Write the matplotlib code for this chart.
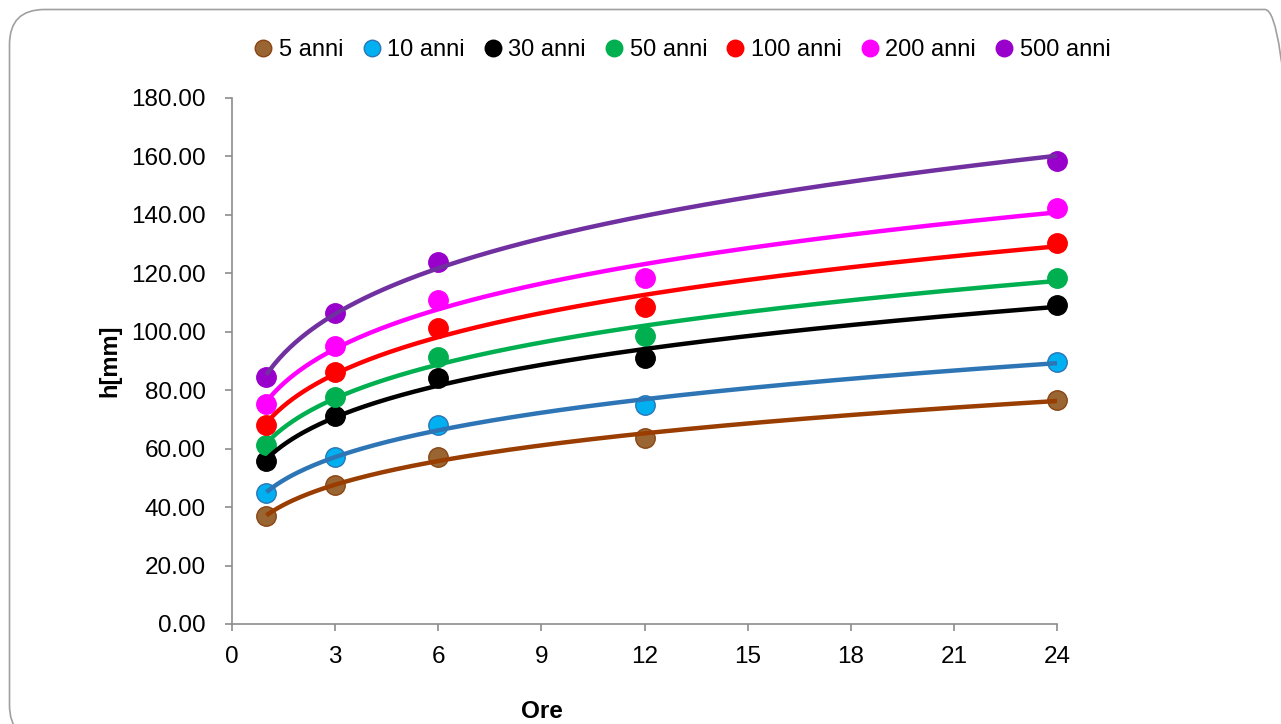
import numpy as np
import matplotlib
matplotlib.use("Agg")
import matplotlib.pyplot as plt
from matplotlib.patches import FancyBboxPatch
from matplotlib.transforms import IdentityTransform

plt.rcParams['font.family'] = ['Liberation Sans', 'DejaVu Sans']

# ---- data ----
ore = [1, 3, 6, 12, 24]
labels = ["5 anni", "10 anni", "30 anni", "50 anni", "100 anni", "200 anni", "500 anni"]
h_5 = [37.0, 47.6, 57.2, 63.7, 76.7]
h_10 = [44.8, 57.2, 68.1, 74.9, 89.7]
h_30 = [55.8, 71.2, 84.2, 91.0, 109.2]
h_50 = [61.3, 77.7, 91.4, 98.6, 118.4]
h_100 = [68.1, 86.2, 101.3, 108.5, 130.4]
h_200 = [75.3, 95.1, 110.9, 118.4, 142.4]
h_500 = [84.5, 106.4, 123.9, np.nan, 158.5]
series = [h_5, h_10, h_30, h_50, h_100, h_200, h_500]

face_colors = ["#996633", "#00B0F0", "#000000", "#00B050", "#FF0000", "#FF00FF", "#9900CC"]
edge_colors = ["#8B4513", "#2E75B6", "#000000", "#00B050", "#FF0000", "#FF00FF", "#9900CC"]
line_colors = ["#993D00", "#2E75B6", "#000000", "#00B050", "#FF0000", "#FF00FF", "#7030A0"]

yticks = [0, 20, 40, 60, 80, 100, 120, 140, 160, 180]
xticks = [0, 3, 6, 9, 12, 15, 18, 21, 24]

W, H = 1281, 724
fig = plt.figure(figsize=(W / 100, H / 100), dpi=100)

# rounded chart border (pixel coordinates, origin bottom-left)
border = FancyBboxPatch((9.5, -16), 1300 - 9.5, (H - 9.5) + 16,
                        boxstyle="round,pad=0,rounding_size=35",
                        transform=IdentityTransform(), facecolor="none",
                        edgecolor="#A0A0A0", linewidth=1.2, zorder=-5)
fig.patches.append(border)

ax = fig.add_axes([232 / W, 1 - 624 / H, 825 / W, 526 / H])
ax.set_facecolor("none")

xs = np.array(ore, dtype=float)
xfit = np.linspace(1, 24, 300)
for vals, lab, fc, ec, lc in zip(series, labels, face_colors, edge_colors, line_colors):
    v = np.array(vals, dtype=float)
    m = ~np.isnan(v)
    ax.plot(xs[m], v[m], linestyle="none", marker="o", markersize=14,
            markerfacecolor=fc, markeredgecolor=ec, markeredgewidth=1.0,
            label=lab, zorder=3, clip_on=False)
    b, ln_a = np.polyfit(np.log(xs[m]), np.log(v[m]), 1)
    ax.plot(xfit, np.exp(ln_a) * xfit ** b, color=lc, linewidth=3.2,
            solid_capstyle="butt", zorder=4)

ax.set_xlim(0, 24)
ax.set_ylim(0, 180)
ax.set_xticks(xticks)
ax.set_yticks(yticks)
ax.set_yticklabels([f"{t:.2f}" for t in yticks])
for s in ["top", "right"]:
    ax.spines[s].set_visible(False)
for s in ["left", "bottom"]:
    ax.spines[s].set_color("#8C8C8C")
    ax.spines[s].set_linewidth(1.2)
ax.tick_params(axis="both", direction="out", length=5, width=1.2, color="#8C8C8C",
               labelsize=17.5, labelcolor="#000000")
ax.tick_params(axis="x", pad=11)
ax.tick_params(axis="y", pad=14)

fig.text(542 / W, 1 - 711 / H, "Ore", fontsize=17.5, fontweight="bold",
         ha="center", va="center")
fig.text(110 / W, 1 - 361 / H, "h[mm]", fontsize=17, fontweight="bold",
         ha="center", va="center", rotation=90)

leg = fig.legend(loc="center", bbox_to_anchor=(681 / W, 1 - 50 / H), ncol=7,
                 frameon=False, fontsize=17, handletextpad=0.15,
                 columnspacing=0.7, markerscale=0.85, handlelength=1.0,
                 borderaxespad=0)

fig.savefig("out.png", dpi=100)
